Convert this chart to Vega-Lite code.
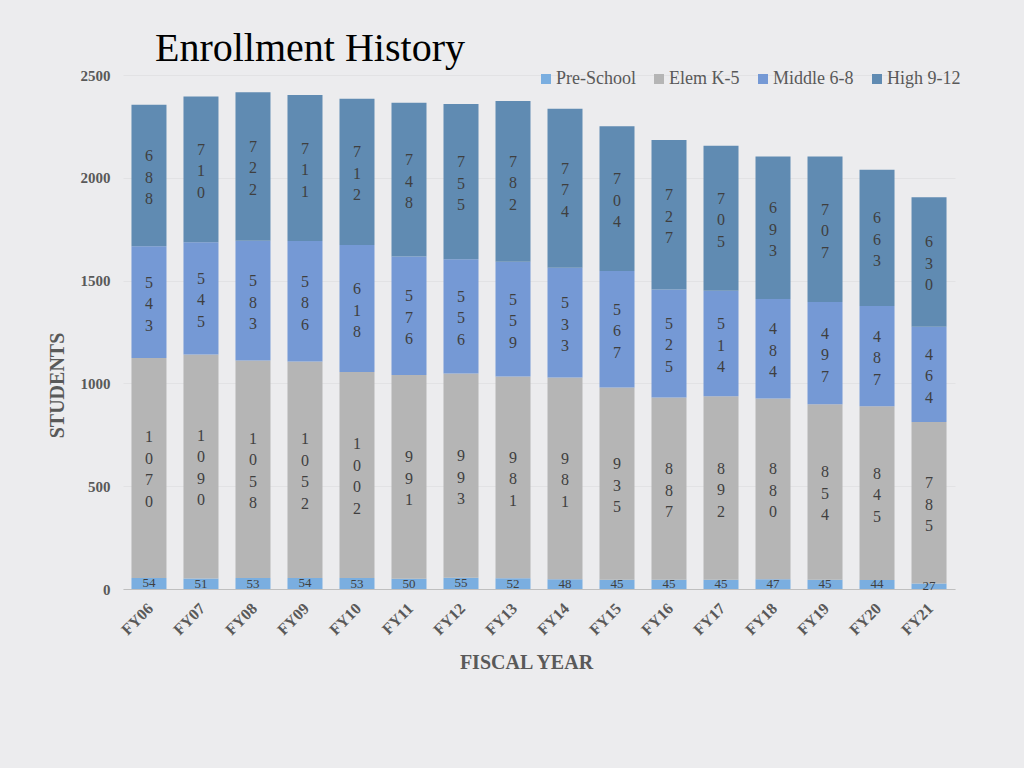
{
  "$schema": "https://vega.github.io/schema/vega-lite/v6.json",
  "width": 832,
  "height": 514,
  "autosize": {"type": "none"},
  "padding": {"left": 123, "top": 75, "right": 69, "bottom": 179},
  "background": "#ececee",
  "title": {
    "text": "Enrollment History",
    "anchor": "start",
    "frame": "group",
    "dx": 32,
    "offset": -33,
    "baseline": "alphabetic",
    "font": "Liberation Serif",
    "fontSize": 40,
    "fontWeight": "normal",
    "color": "#000000"
  },
  "config": {
    "view": {"stroke": null},
    "legend": {"padding": 0},
    "axisY": {
      "labelFont": "Liberation Serif",
      "labelFontSize": 15,
      "labelFontWeight": "bold",
      "labelColor": "#595959",
      "labelPadding": 13,
      "titleFont": "Liberation Serif",
      "titleFontSize": 20,
      "titleFontWeight": "bold",
      "titleColor": "#595959",
      "domain": false,
      "ticks": false,
      "gridColor": "#e2e2e4",
      "gridWidth": 1
    }
  },
  "data": {
    "values": [
      {"fy": "FY06", "cat": "Pre-School", "n": 54}, {"fy": "FY06", "cat": "Elem K-5", "n": 1070}, {"fy": "FY06", "cat": "Middle 6-8", "n": 543}, {"fy": "FY06", "cat": "High 9-12", "n": 688},
      {"fy": "FY07", "cat": "Pre-School", "n": 51}, {"fy": "FY07", "cat": "Elem K-5", "n": 1090}, {"fy": "FY07", "cat": "Middle 6-8", "n": 545}, {"fy": "FY07", "cat": "High 9-12", "n": 710},
      {"fy": "FY08", "cat": "Pre-School", "n": 53}, {"fy": "FY08", "cat": "Elem K-5", "n": 1058}, {"fy": "FY08", "cat": "Middle 6-8", "n": 583}, {"fy": "FY08", "cat": "High 9-12", "n": 722},
      {"fy": "FY09", "cat": "Pre-School", "n": 54}, {"fy": "FY09", "cat": "Elem K-5", "n": 1052}, {"fy": "FY09", "cat": "Middle 6-8", "n": 586}, {"fy": "FY09", "cat": "High 9-12", "n": 711},
      {"fy": "FY10", "cat": "Pre-School", "n": 53}, {"fy": "FY10", "cat": "Elem K-5", "n": 1002}, {"fy": "FY10", "cat": "Middle 6-8", "n": 618}, {"fy": "FY10", "cat": "High 9-12", "n": 712},
      {"fy": "FY11", "cat": "Pre-School", "n": 50}, {"fy": "FY11", "cat": "Elem K-5", "n": 991}, {"fy": "FY11", "cat": "Middle 6-8", "n": 576}, {"fy": "FY11", "cat": "High 9-12", "n": 748},
      {"fy": "FY12", "cat": "Pre-School", "n": 55}, {"fy": "FY12", "cat": "Elem K-5", "n": 993}, {"fy": "FY12", "cat": "Middle 6-8", "n": 556}, {"fy": "FY12", "cat": "High 9-12", "n": 755},
      {"fy": "FY13", "cat": "Pre-School", "n": 52}, {"fy": "FY13", "cat": "Elem K-5", "n": 981}, {"fy": "FY13", "cat": "Middle 6-8", "n": 559}, {"fy": "FY13", "cat": "High 9-12", "n": 782},
      {"fy": "FY14", "cat": "Pre-School", "n": 48}, {"fy": "FY14", "cat": "Elem K-5", "n": 981}, {"fy": "FY14", "cat": "Middle 6-8", "n": 533}, {"fy": "FY14", "cat": "High 9-12", "n": 774},
      {"fy": "FY15", "cat": "Pre-School", "n": 45}, {"fy": "FY15", "cat": "Elem K-5", "n": 935}, {"fy": "FY15", "cat": "Middle 6-8", "n": 567}, {"fy": "FY15", "cat": "High 9-12", "n": 704},
      {"fy": "FY16", "cat": "Pre-School", "n": 45}, {"fy": "FY16", "cat": "Elem K-5", "n": 887}, {"fy": "FY16", "cat": "Middle 6-8", "n": 525}, {"fy": "FY16", "cat": "High 9-12", "n": 727},
      {"fy": "FY17", "cat": "Pre-School", "n": 45}, {"fy": "FY17", "cat": "Elem K-5", "n": 892}, {"fy": "FY17", "cat": "Middle 6-8", "n": 514}, {"fy": "FY17", "cat": "High 9-12", "n": 705},
      {"fy": "FY18", "cat": "Pre-School", "n": 47}, {"fy": "FY18", "cat": "Elem K-5", "n": 880}, {"fy": "FY18", "cat": "Middle 6-8", "n": 484}, {"fy": "FY18", "cat": "High 9-12", "n": 693},
      {"fy": "FY19", "cat": "Pre-School", "n": 45}, {"fy": "FY19", "cat": "Elem K-5", "n": 854}, {"fy": "FY19", "cat": "Middle 6-8", "n": 497}, {"fy": "FY19", "cat": "High 9-12", "n": 707},
      {"fy": "FY20", "cat": "Pre-School", "n": 44}, {"fy": "FY20", "cat": "Elem K-5", "n": 845}, {"fy": "FY20", "cat": "Middle 6-8", "n": 487}, {"fy": "FY20", "cat": "High 9-12", "n": 663},
      {"fy": "FY21", "cat": "Pre-School", "n": 27}, {"fy": "FY21", "cat": "Elem K-5", "n": 785}, {"fy": "FY21", "cat": "Middle 6-8", "n": 464}, {"fy": "FY21", "cat": "High 9-12", "n": 630}
    ]
  },
  "transform": [
    {"calculate": "indexof(['Pre-School','Elem K-5','Middle 6-8','High 9-12'], datum.cat)", "as": "ord"},
    {"stack": "n", "groupby": ["fy"], "sort": [{"field": "ord", "order": "ascending"}], "as": ["y0", "y1"]},
    {"calculate": "(datum.y0 + datum.y1) / 2", "as": "mid"},
    {"calculate": "join(split(toString(datum.n), ''), '\\n')", "as": "lbl"}
  ],
  "encoding": {
    "x": {
      "field": "fy",
      "type": "nominal",
      "sort": null,
      "scale": {"paddingInner": 0.327, "paddingOuter": 0.163},
      "axis": {
        "title": "FISCAL YEAR",
        "labelAngle": -45,
        "labelFont": "Liberation Serif",
        "labelFontSize": 16,
        "labelFontWeight": "bold",
        "labelColor": "#595959",
        "labelPadding": 11,
        "labelOffset": -4,
        "titleFont": "Liberation Serif",
        "titleFontSize": 20,
        "titleFontWeight": "bold",
        "titleColor": "#595959",
        "titleX": 403,
        "titleY": 63,
        "titleAlign": "center",
        "titleBaseline": "top",
        "domainColor": "#bfbfbf",
        "domainWidth": 1,
        "ticks": false,
        "grid": false
      }
    }
  },
  "layer": [
    {
      "mark": {"type": "bar"},
      "encoding": {
        "y": {
          "field": "y0",
          "type": "quantitative",
          "scale": {"domain": [0, 2500], "nice": false},
          "axis": {"title": "STUDENTS", "values": [0, 500, 1000, 1500, 2000, 2500], "format": "d", "labelFontSize": 15, "labelFont": "Liberation Serif", "labelFontWeight": "bold", "titleX": -56, "titleY": 310, "titleAngle": -90, "titleAlign": "center", "titleBaseline": "bottom"}
        },
        "y2": {"field": "y1"},
        "color": {
          "field": "cat",
          "type": "nominal",
          "scale": {
            "domain": ["Pre-School", "Elem K-5", "Middle 6-8", "High 9-12"],
            "range": ["#7aaee0", "#b5b5b5", "#7599d5", "#608bb2"]
          },
          "legend": {
            "orient": "none",
            "legendX": 414,
            "legendY": -5,
            "direction": "horizontal",
            "title": null,
            "symbolType": "square",
            "symbolSize": 100,
            "symbolStrokeWidth": 0,
            "symbolOpacity": 1,
            "labelFont": "Liberation Serif",
            "labelFontSize": 18,
            "labelColor": "#595959",
            "labelOffset": 1,
            "columnPadding": 14
          }
        }
      }
    },
    {
      "transform": [{"filter": "datum.cat !== 'Pre-School' && datum.n < 1000"}],
      "mark": {
        "type": "text",
        "font": "Liberation Serif",
        "fontSize": 16,
        "lineHeight": 21.5,
        "lineBreak": "\n",
        "color": "#3f3f3f",
        "align": "center",
        "baseline": "middle",
        "dy": -19.5
      },
      "encoding": {
        "y": {"field": "mid", "type": "quantitative", "scale": {"domain": [0, 2500], "nice": false},
          "axis": {"title": "STUDENTS", "values": [0, 500, 1000, 1500, 2000, 2500], "format": "d", "labelFontSize": 15, "labelFont": "Liberation Serif", "labelFontWeight": "bold", "titleX": -56, "titleY": 310, "titleAngle": -90, "titleAlign": "center", "titleBaseline": "bottom"}},
        "text": {"field": "lbl", "type": "nominal"}
      }
    },
    {
      "transform": [{"filter": "datum.cat !== 'Pre-School' && datum.n >= 1000"}],
      "mark": {
        "type": "text",
        "font": "Liberation Serif",
        "fontSize": 16,
        "lineHeight": 21.5,
        "lineBreak": "\n",
        "color": "#3f3f3f",
        "align": "center",
        "baseline": "middle",
        "dy": -30.75
      },
      "encoding": {
        "y": {"field": "mid", "type": "quantitative", "scale": {"domain": [0, 2500], "nice": false},
          "axis": {"title": "STUDENTS", "values": [0, 500, 1000, 1500, 2000, 2500], "format": "d", "labelFontSize": 15, "labelFont": "Liberation Serif", "labelFontWeight": "bold", "titleX": -56, "titleY": 310, "titleAngle": -90, "titleAlign": "center", "titleBaseline": "bottom"}},
        "text": {"field": "lbl", "type": "nominal"}
      }
    },
    {
      "transform": [{"filter": "datum.cat === 'Pre-School'"}],
      "mark": {
        "type": "text",
        "font": "Liberation Serif",
        "fontSize": 13,
        "color": "#3f3f3f",
        "align": "center",
        "baseline": "middle"
      },
      "encoding": {
        "y": {"field": "mid", "type": "quantitative", "scale": {"domain": [0, 2500], "nice": false},
          "axis": {"title": "STUDENTS", "values": [0, 500, 1000, 1500, 2000, 2500], "format": "d", "labelFontSize": 15, "labelFont": "Liberation Serif", "labelFontWeight": "bold", "titleX": -56, "titleY": 310, "titleAngle": -90, "titleAlign": "center", "titleBaseline": "bottom"}},
        "text": {"field": "n", "type": "quantitative"}
      }
    }
  ]
}
